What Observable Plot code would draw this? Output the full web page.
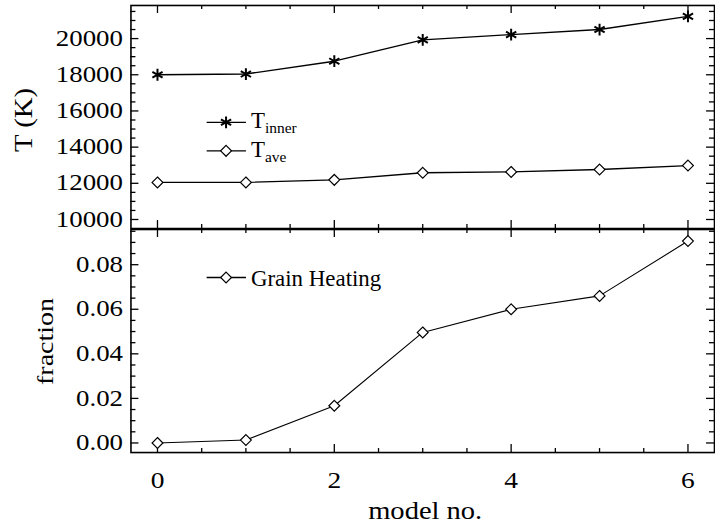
<!DOCTYPE html>
<html><head><meta charset="utf-8">
<script src="https://cdn.jsdelivr.net/npm/d3@7"></script>
<script src="https://cdn.jsdelivr.net/npm/@observablehq/plot@0.6"></script>
<style>
html,body{margin:0;padding:0;background:#fff;overflow:hidden;}
#wrap{position:relative;width:715px;height:527px;overflow:hidden;background:#fff;}
#wrap svg{position:absolute;left:0;overflow:visible;}
</style></head><body><div id="wrap"></div>
<script>
// ---- data ----
const models = [0, 1, 2, 3, 4, 5, 6];
const tInner = [18000, 18040, 18750, 19930, 20220, 20500, 21230];
const tAve = [12050, 12050, 12190, 12580, 12630, 12760, 12980];
const grainHeating = [0.0000, 0.0013, 0.0167, 0.0496, 0.0600, 0.0660, 0.0906];

// tick values
const xMajor = [0, 2, 4, 6];
const xMinor = [0.5, 1, 1.5, 2.5, 3, 3.5, 4.5, 5, 5.5];
const tMajor = [10000, 12000, 14000, 16000, 18000, 20000];
const tMinor = [10500, 11000, 11500, 12500, 13000, 13500, 14500, 15000, 15500, 16500, 17000, 17500, 18500, 19000, 19500, 20500, 21000, 21500];
const fMajor = [0.00, 0.02, 0.04, 0.06, 0.08];
const fMinor = [0.005, 0.010, 0.015, 0.025, 0.030, 0.035, 0.045, 0.050, 0.055, 0.065, 0.070, 0.075, 0.085, 0.090, 0.095];

const topRows = models.map((m, i) => ({model: m, tInner: tInner[i], tAve: tAve[i]}));
const botRows = models.map((m, i) => ({model: m, frac: grainHeating[i]}));

// ---- layout ----
const W = 718, ML = 131, MR = 1;
const innerW = W - ML - MR;
const FONT = "'Liberation Serif', 'Times New Roman', serif";

function frameTicks(yMajor, yMinor, innerH) {
  const st = {stroke: "#000", strokeWidth: 1.3};
  return [
    Plot.ruleY(yMajor, {y: d => d, insetRight: innerW - 8, ...st}),
    Plot.ruleY(yMajor, {y: d => d, insetLeft: innerW - 8, ...st}),
    Plot.ruleY(yMinor, {y: d => d, insetRight: innerW - 5, ...st}),
    Plot.ruleY(yMinor, {y: d => d, insetLeft: innerW - 5, ...st}),
    Plot.ruleX(xMajor, {x: d => d, insetBottom: innerH - 8, ...st}),
    Plot.ruleX(xMajor, {x: d => d, insetTop: innerH - 8, ...st}),
    Plot.ruleX(xMinor, {x: d => d, insetBottom: innerH - 4, ...st}),
    Plot.ruleX(xMinor, {x: d => d, insetTop: innerH - 4, ...st}),
    Plot.frame({stroke: "#000", strokeWidth: 1.6})
  ];
}

// horizontal stretch of glyphs (reference text is wider than Times)
function stretch(svg, sel, s) {
  svg.querySelectorAll(sel).forEach(t => {
    const L = t.getComputedTextLength();
    if (L > 0) {
      t.setAttribute("textLength", (L * s).toFixed(2));
      t.setAttribute("lengthAdjust", "spacingAndGlyphs");
    }
  });
}

// ---- top panel ----
const topH = 231, topMT = 5, topMB = 2;
const topPlot = Plot.plot({
  width: W, height: topH,
  marginTop: topMT, marginBottom: topMB, marginLeft: ML, marginRight: MR,
  style: {fontFamily: FONT, background: "transparent", color: "#000", overflow: "visible"},
  x: {domain: [-0.3, 6.3], axis: null},
  y: {domain: [9500, 21830]},
  marks: [
    ...frameTicks(tMajor, tMinor, topH - topMT - topMB),
    Plot.axisY({ticks: tMajor, tickSize: 0, tickPadding: 8, tickFormat: d => String(d), fontSize: 22.5, label: null, fill: "#000"}),
    Plot.text(["T (K)"], {frameAnchor: "left", rotate: -90, dx: -99, dy: 3, lineAnchor: "bottom", textAnchor: "middle", fontSize: 24.5, fill: "#000"}),
    Plot.line(topRows, {x: "model", y: "tInner", stroke: "#000", strokeWidth: 1.4}),
    Plot.dot(topRows, {x: "model", y: "tInner", symbol: "asterisk", r: 5.6, stroke: "#000", strokeWidth: 2}),
    Plot.line(topRows, {x: "model", y: "tAve", stroke: "#000", strokeWidth: 1.4}),
    Plot.dot(topRows, {x: "model", y: "tAve", symbol: "diamond2", r: 4.9, fill: "#fff", stroke: "#000", strokeWidth: 1.2})
  ]
});
topPlot.style.top = "0px";

// ---- bottom panel ----
const botTop = 227, botH = 300, botMT = 2, botMB = 74;
const botPlot = Plot.plot({
  width: W, height: botH,
  marginTop: botMT, marginBottom: botMB, marginLeft: ML, marginRight: MR,
  style: {fontFamily: FONT, background: "transparent", color: "#000", overflow: "visible"},
  x: {domain: [-0.3, 6.3]},
  y: {domain: [-0.0043, 0.0958]},
  marks: [
    ...frameTicks(fMajor, fMinor, botH - botMT - botMB),
    Plot.axisY({ticks: fMajor, tickSize: 0, tickPadding: 8, tickFormat: d3.format(".2f"), fontSize: 22.5, label: null, fill: "#000"}),
    Plot.axisX({ticks: xMajor, anchor: "bottom", tickSize: 0, tickPadding: 19, tickFormat: d => String(d), fontSize: 24, label: null, fill: "#000"}),
    Plot.text(["fraction"], {frameAnchor: "left", rotate: -90, dx: -78, dy: 0.5, lineAnchor: "bottom", textAnchor: "middle", fontSize: 24, fill: "#000"}),
    Plot.text(["model no."], {frameAnchor: "bottom", dx: 2.5, dy: 66.3, lineAnchor: "bottom", textAnchor: "middle", fontSize: 24.5, fill: "#000"}),
    Plot.line(botRows, {x: "model", y: "frac", stroke: "#000", strokeWidth: 1.1}),
    Plot.dot(botRows, {x: "model", y: "frac", symbol: "diamond2", r: 4.9, fill: "#fff", stroke: "#000", strokeWidth: 1.2})
  ]
});
botPlot.style.top = botTop + "px";

// ---- legends ----
function legendRow(svg, y, type, r, fill, sw, label, sub, baseY) {
  const g = d3.select(svg).append("g").attr("aria-label", "legend").attr("text-anchor", "start");
  g.append("line").attr("x1", 207.5).attr("x2", 247).attr("y1", y).attr("y2", y)
    .attr("stroke", "#000").attr("stroke-width", 1.3);
  g.append("path").attr("d", d3.symbol(type, Math.PI * r * r)())
    .attr("transform", `translate(227,${y})`)
    .attr("fill", fill).attr("stroke", "#000").attr("stroke-width", sw);
  const t = g.append("text").attr("x", 252).attr("y", baseY).attr("text-anchor", "start")
    .attr("font-family", FONT).attr("font-size", 23).attr("fill", "#000").text(label);
  if (sub) t.append("tspan").attr("font-size", 15.5).attr("dy", 5.5).text(sub);
}
legendRow(topPlot, 122.8, d3.symbolAsterisk, 5.6, "none", 2, "T", "inner", 128.5);
legendRow(topPlot, 151.5, d3.symbolDiamond2, 4.9, "#fff", 1.2, "T", "ave", 157.5);
legendRow(botPlot, 277.7 - botTop, d3.symbolDiamond2, 4.9, "#fff", 1.2, "Grain Heating", null, 286 - botTop);

const wrap = document.getElementById("wrap");
wrap.appendChild(topPlot);
wrap.appendChild(botPlot);

// stretch axis texts once in the DOM
stretch(topPlot, 'g[aria-label="y-axis tick label"] text', 1.2);
stretch(topPlot, 'g[aria-label="text"] text', 1.18);
stretch(botPlot, 'g[aria-label="y-axis tick label"] text', 1.2);
stretch(botPlot, 'g[aria-label="x-axis tick label"] text', 1.15);
stretch(botPlot, 'g[aria-label="text"] text', 1.17);
</script>
</body></html>
